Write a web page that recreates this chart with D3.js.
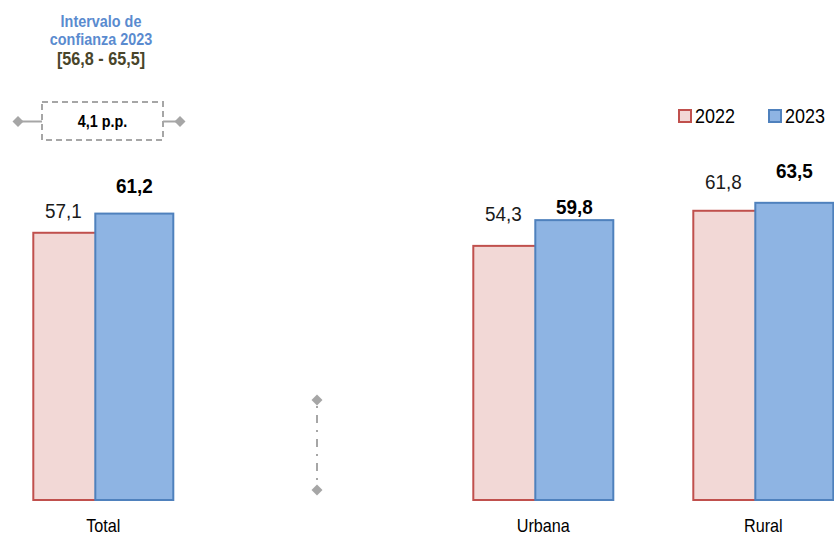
<!DOCTYPE html>
<html><head><meta charset="utf-8">
<script src="https://cdn.jsdelivr.net/npm/d3@7"></script>
<style>
html,body{margin:0;padding:0;background:#fff;overflow:hidden}
text{font-family:'Liberation Sans','Arial',sans-serif}
</style></head>
<body>
<script>
// ---- data ----
const categories = ["Total", "", "Urbana", "Rural"];
const series = ["2022", "2023"];
const values2022 = [57.1, null, 54.3, 61.8];
const values2023 = [61.2, null, 59.8, 63.5];
const ciTitle = ["Intervalo de", "confianza 2023"];
const ciRange = "[56,8 - 65,5]";
const diffLabel = "4,1 p.p.";

// ---- layout ----
const W = 834, H = 535;
const NX = 0.9; // horizontal condensation to mimic a narrow font
const svg = d3.select("body").append("svg").attr("width", W).attr("height", H);

const x = d3.scaleBand().domain(categories.map((c,i)=>i)).range([-6.7, 873.3]).paddingInner(0).paddingOuter(0);
const y = d3.scaleLinear().domain([0, 100]).range([500, 32]);
const barW = x.bandwidth() * 80/220;
const shift = x.bandwidth() * 62/220;
const groupOff = (x.bandwidth() - (barW + shift)) / 2;
const fmt = v => d3.format(".1f")(v).replace(".", ",");

function ntext(parent, tx, ty, str, size, weight, fill, anchor, sx) {
  return parent.append("text")
    .attr("transform", `translate(${tx},${ty}) scale(${sx || NX},1)`)
    .attr("text-anchor", anchor || "middle")
    .attr("font-size", size).attr("font-weight", weight || "normal")
    .attr("fill", fill || "#000").text(str);
}

const colors = {
  "2022": {fill: "#F2D8D6", stroke: "#C0504D"},
  "2023": {fill: "#8EB4E3", stroke: "#4F81BD"}
};
// label vertical offsets above bar tops (layout only)
const dy2022 = [-15, 0, -25, -22];
const dy2023 = [-21, 0, -6, -25];

const g = svg.append("g");
[values2022, values2023].forEach((vals, si) => {
  const s = series[si];
  g.selectAll(null).data(vals.map((v,i)=>({v,i})).filter(d=>d.v!=null)).enter()
    .append("rect")
    .attr("x", d => x(d.i) + groupOff + si*shift + 1)
    .attr("y", d => y(d.v))
    .attr("width", barW - 2)
    .attr("height", d => y(0) - y(d.v))
    .attr("fill", colors[s].fill)
    .attr("stroke", colors[s].stroke)
    .attr("stroke-width", 2);
});
// value labels
values2022.forEach((v,i) => {
  if (v == null) return;
  ntext(svg, x(i) + groupOff + shift/2, y(v) + dy2022[i], fmt(v), 21, "normal", "#1a1a1a");
});
values2023.forEach((v,i) => {
  if (v == null) return;
  ntext(svg, x(i) + groupOff + shift + barW/2, y(v) + dy2023[i], fmt(v), 21, "bold", "#000");
});
// category axis labels
const xAxis = d3.axisBottom(x).tickSize(0).tickFormat(i => categories[i]);
const ax = svg.append("g").attr("transform", `translate(0,${y(0)})`).call(xAxis);
ax.select(".domain").remove();
ax.selectAll("text").attr("font-size", 18).attr("fill", "#000").attr("dy", 0).attr("y", 0)
  .attr("transform", `translate(0,32) scale(${NX},1)`)
  .style("font-family", "'Liberation Sans',Arial,sans-serif");

// legend
const leg = svg.append("g");
const legX = [678, 768];
series.forEach((s, i) => {
  leg.append("rect").attr("x", legX[i]+1).attr("y", 110).attr("width", 12).attr("height", 12)
    .attr("fill", colors[s].fill).attr("stroke", colors[s].stroke).attr("stroke-width", 2);
  ntext(leg, legX[i] + 17, 123, s, 20, "normal", "#000", "start");
});

// confidence interval annotation
const ann = svg.append("g");
ntext(ann, 101, 27, ciTitle[0], 16, "bold", "#5A8BCF");
ntext(ann, 101, 45, ciTitle[1], 16, "bold", "#5A8BCF");
ntext(ann, 101, 65, ciRange, 18, "bold", "#49452A");

const grey = "#A6A6A6";
ann.append("rect").attr("x", 42).attr("y", 102).attr("width", 121).attr("height", 38)
  .attr("fill", "none").attr("stroke", grey).attr("stroke-width", 2).attr("stroke-dasharray", "6,4");
ann.append("line").attr("x1", 18).attr("x2", 42).attr("y1", 121.5).attr("y2", 121.5).attr("stroke", grey).attr("stroke-width", 2);
ann.append("line").attr("x1", 163).attr("x2", 180).attr("y1", 121.5).attr("y2", 121.5).attr("stroke", grey).attr("stroke-width", 2);
const diamond = d3.symbol().type(d3.symbolSquare).size(60);
[[18,121.5],[180,121.5],[317,400],[317,490]].forEach(([cx,cy]) => {
  ann.append("path").attr("d", diamond()).attr("transform", `translate(${cx},${cy}) rotate(45)`).attr("fill", grey);
});
ann.append("line").attr("x1", 317).attr("x2", 317).attr("y1", 406).attr("y2", 486)
  .attr("stroke", grey).attr("stroke-width", 2).attr("stroke-dasharray", "2,7,8,7");
ntext(ann, 102.5, 127, diffLabel, 16, "bold", "#000");
</script>
</body></html>
